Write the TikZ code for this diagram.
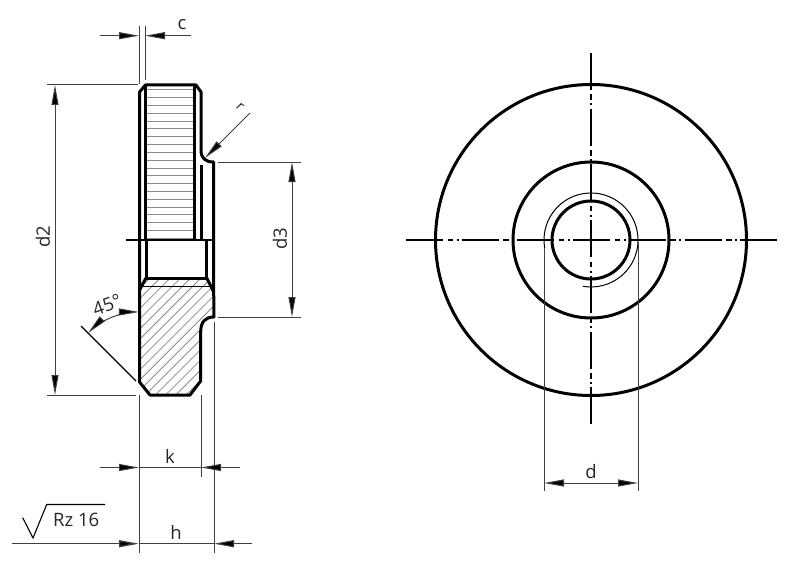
\documentclass[tikz,border=0pt]{standalone}
\usepackage{fontspec}
\setmainfont{Open Sans}
\usetikzlibrary{arrows.meta}
\definecolor{dimc}{gray}{0.25}
\definecolor{hatchc}{gray}{0.55}
\tikzset{
 bold/.style={line width=3pt,black,line join=round},
 thin/.style={line width=1pt,dimc},
 dimarrow/.style={line width=1pt,dimc,-{Triangle[length=20pt,width=7pt,fill=black]}},
 hatchline/.style={line width=1pt,hatchc},
 lbl/.style={font=\fontsize{18.5}{18.5}\selectfont,inner sep=0pt,text=black!85},
 center/.style={line width=1.2pt,black},
 cdash/.style={center,dash pattern=on 37pt off 4.5pt on 5.5pt off 3.5pt on 2pt off 3.2pt},
}
\begin{document}
\begin{tikzpicture}[x=1pt,y=-1pt]
\useasboundingbox (0,0) rectangle (800,567);
% threaded hatching
\foreach \y in {90,97.8,...,232}{\draw[hatchline] (146,\y) -- (194.5,\y);}
\draw[line width=2pt,hatchc] (146,238.5) -- (194.5,238.5);
% section hatching
\begin{scope}
\clip (146,278) -- (206.7,278) -- (214,292) -- (214,317) .. controls (205,317) and (200.7,322) .. (200.7,332) -- (200.7,380) -- (190,394.5) -- (150,394.5) -- (139.5,383) -- (139.5,290) -- cycle;
\foreach \i in {0,1,...,14}{\draw[line width=0.8pt,hatchc] ({130+10.2*\i},400) -- ({130+10.2*\i+140},260);}
\foreach \i in {1,2,...,14}{\draw[line width=0.8pt,hatchc] ({130-10.2*\i},400) -- ({130-10.2*\i+140},260);}
\end{scope}
% bold outline
\draw[bold] (139.5,240) -- (139.5,92) -- (145.5,85) -- (196,85) -- (201,92) -- (201,150) .. controls (201,158) and (205,162) .. (213.7,162) -- (213.7,292) -- (214,317) .. controls (205,317) and (200.7,322) .. (200.7,332) -- (200.7,381) -- (190,395) -- (150,395) -- (139.5,382) -- cycle;
\draw[bold] (145.5,85) -- (145.5,240);
\draw[bold] (194.5,85) -- (194.5,240);
\draw[bold] (201,165) -- (201,240);
\draw[bold] (146,240) -- (146,278) -- (206.7,278) -- (206.7,240);
\draw[bold] (146,278) -- (139.5,290);
\draw[bold] (206.7,278) -- (213.7,292);
\draw[line width=1.8pt,black] (141,286.5) -- (210,286.5);
% centre line, left view
\coordinate (cla) at (126,240); \coordinate (clb) at (213,240);
\draw[center] (cla) -- (clb);
% dimension c
\coordinate (c1) at (139,26); \coordinate (c2) at (139,84);
\coordinate (c3) at (145,26); \coordinate (c4) at (145,80);
\draw[thin] (c1) -- (c2); \draw[thin] (c3) -- (c4);
\coordinate (ca) at (100,35.7); \coordinate (cb) at (139,35.7); \coordinate (cc) at (191,35.7); \coordinate (cd) at (145,35.7);
\draw[dimarrow] (ca) -- (cb); \draw[dimarrow] (cc) -- (cd);
\node[lbl] (lc) at (182,25) {c};
% dimension d2
\coordinate (d2a) at (47,85); \coordinate (d2b) at (138,85);
\coordinate (d2c) at (47,395); \coordinate (d2d) at (136,395);
\draw[thin] (d2a) -- (d2b); \draw[thin] (d2c) -- (d2d);
\coordinate (d2t) at (55,85); \coordinate (d2u) at (55,395); \coordinate (d2m) at (55,240);
\draw[dimarrow] (d2m) -- (d2t); \draw[dimarrow] (d2m) -- (d2u);
\node[lbl,rotate=90] (ld2) at (43,237) {d2};
% dimension d3
\coordinate (d3a) at (218,162); \coordinate (d3b) at (301,162);
\coordinate (d3c) at (218,317); \coordinate (d3d) at (301,317);
\draw[thin] (d3a) -- (d3b); \draw[thin] (d3c) -- (d3d);
\coordinate (d3t) at (292,162); \coordinate (d3u) at (292,317); \coordinate (d3m) at (292,240);
\draw[dimarrow] (d3m) -- (d3t); \draw[dimarrow] (d3m) -- (d3u);
\node[lbl,rotate=90] (ld3) at (280,239) {d3};
% radius
\coordinate (ra) at (250,113); \coordinate (rb) at (205,158);
\draw[dimarrow] (ra) -- (rb);
\node[lbl,rotate=-45,font=\fontsize{14}{14}\selectfont] (lr) at (240,107) {r};
% 45 deg
\coordinate (aa) at (81,326); \coordinate (ab) at (136,381);
\draw[line width=1.1pt,black] (aa) -- (ab);
\coordinate (am) at (112,317.2);
\draw[dimarrow] (am) arc[start angle=248,end angle=270,radius=72];
\draw[dimarrow] (am) arc[start angle=248,end angle=225,radius=72];
\node[lbl,rotate=20] (l45) at (107,305) {45°};
% dimension k and h
\coordinate (xa) at (139,395); \coordinate (xb) at (139,553);
\coordinate (xc) at (201,395); \coordinate (xd) at (201,477);
\coordinate (xe) at (214,322); \coordinate (xf) at (214,553);
\draw[thin] (xa) -- (xb); \draw[thin] (xc) -- (xd); \draw[thin] (xe) -- (xf);
\coordinate (ka) at (100,467.5); \coordinate (kb) at (139,467.5); \coordinate (kc) at (240,467.5); \coordinate (kd) at (201,467.5);
\draw[dimarrow] (ka) -- (kb); \draw[dimarrow] (kc) -- (kd);
\draw[thin] (kb) -- (kd);
\node[lbl] (lk) at (170,456) {k};
\coordinate (ha) at (12,543.7); \coordinate (hb) at (139,543.7); \coordinate (hc) at (252,543.7); \coordinate (hd) at (214,543.7);
\draw[dimarrow,line width=1.4pt] (ha) -- (hb); \draw[dimarrow] (hc) -- (hd);
\draw[thin] (hb) -- (hd);
\node[lbl] (lh) at (176,532) {h};
% roughness
\draw[line width=1.1pt,black] (22.7,517.7) -- (33,538) -- (46.7,504.5) -- (105,504.5);
\node[lbl,anchor=west] (lrz) at (53,520) {Rz 16};
% right view
\coordinate (o) at (591,240);
\draw[line width=3pt] (o) circle[radius=155.5];
\draw[line width=3pt] (o) circle[radius=78];
\draw[line width=3pt] (o) circle[radius=39];
\draw[line width=1pt] (o) ++(170:47) arc[start angle=170,end angle=460,radius=47];
\coordinate (h1) at (406,240); \coordinate (h2) at (778,240);
\coordinate (v1) at (591,53); \coordinate (v2) at (591,424);
\draw[cdash] (h1) -- (h2);
\draw[cdash] (v1) -- (v2);
\coordinate (e1) at (544,248); \coordinate (e2) at (544,491);
\coordinate (e3) at (638,242); \coordinate (e4) at (638,491);
\draw[thin] (e1) -- (e2); \draw[thin] (e3) -- (e4);
\coordinate (dm) at (591,483); \coordinate (da) at (544,483); \coordinate (db) at (638,483);
\draw[dimarrow] (dm) -- (da); \draw[dimarrow] (dm) -- (db);
\node[lbl] (ld) at (591,472) {d};
\end{tikzpicture}
\end{document}
